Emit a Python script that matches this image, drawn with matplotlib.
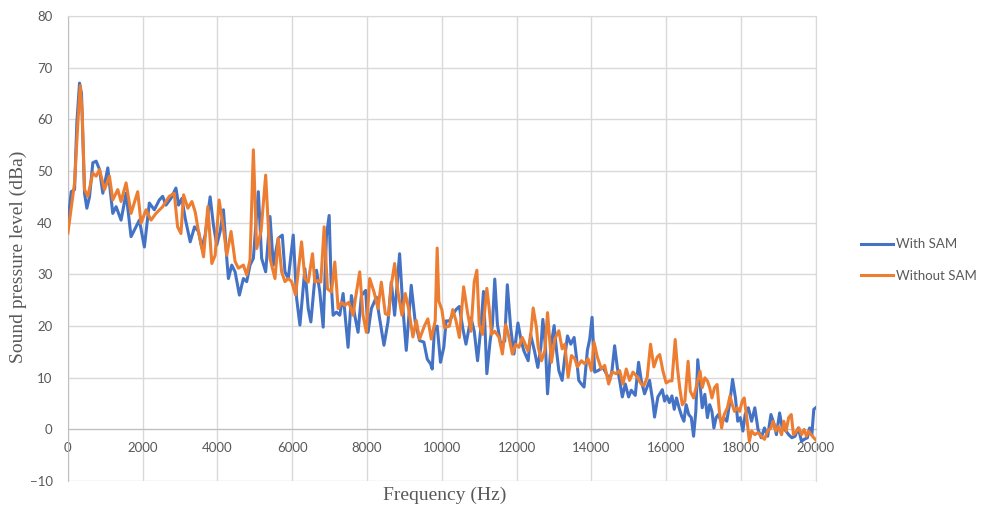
import matplotlib.pyplot as plt

# Spectrum (Hz, dBa)
freq_with = [0, 89, 178, 240, 311, 364, 445, 507, 578, 667, 756, 845, 934, 1067, 1200, 1289,
             1422, 1556, 1689, 1822, 1911, 2045, 2178, 2311, 2445, 2534, 2622, 2756, 2889,
             2960, 3049, 3138, 3271, 3387, 3493, 3582, 3671, 3804, 3893, 3982, 4071, 4160,
             4249, 4293, 4382, 4471, 4587, 4693, 4782, 4871, 4960, 5093, 5182, 5289, 5405,
             5493, 5627, 5734, 5805, 5894, 6027, 6116, 6205, 6338, 6427, 6498, 6604, 6649,
             6738, 6827, 6915, 6987, 7040, 7093, 7182, 7271, 7360, 7493, 7582, 7671, 7760,
             7849, 7964, 8027, 8116, 8249, 8338, 8453, 8560, 8649, 8738, 8871, 8960, 9049,
             9182, 9289, 9405, 9520, 9611, 9699, 9743, 9805, 9876, 9965, 10053, 10115, 10204,
             10292, 10381, 10469, 10558, 10646, 10779, 10867, 10956, 11044, 11115, 11204,
             11292, 11354, 11416, 11487, 11575, 11682, 11752, 11841, 11929, 12036, 12124,
             12195, 12310, 12372, 12478, 12567, 12649, 12702, 12773, 12827, 12915, 13004,
             13067, 13129, 13218, 13289, 13360, 13449, 13538, 13600, 13662, 13733, 13804,
             13893, 13956, 14018, 14089, 14178, 14311, 14400, 14489, 14551, 14622, 14693,
             14756, 14827, 14907, 14996, 15067, 15173, 15262, 15333, 15422, 15556, 15645,
             15689, 15778, 15897, 15957, 16017, 16086, 16155, 16216, 16276, 16345, 16414,
             16474, 16534, 16603, 16672, 16733, 16793, 16845, 16905, 16965, 17034, 17103,
             17164, 17224, 17276, 17336, 17396, 17465, 17534, 17621, 17707, 17776, 17853,
             17914, 17983, 18052, 18112, 18198, 18284, 18371, 18457, 18543, 18629, 18715,
             18802, 18888, 18948, 19034, 19103, 19207, 19276, 19362, 19448, 19534, 19620,
             19690, 19776, 19836, 19896, 19948, 20000]
spl_with = [40, 46, 46.4, 59.4, 67, 65, 45.7, 42.8, 45, 51.6, 51.9, 50.3, 45.7, 50.6, 41.8, 43.1,
            40.5, 45.7, 37.3, 39.2, 40.5, 35.3, 43.8, 42.5, 44.4, 45.1, 43.4, 44.7, 46.7,
            43.4, 44.7, 40.8, 36.3, 39.2, 38.3, 35.1, 37.6, 45, 39.5, 35.7, 38.3, 42.5,
            33.1, 29.2, 31.8, 30.5, 26, 29.2, 28.6, 31.8, 33.1, 46, 33.1, 30.5, 41.2,
            31.8, 37, 37.6, 30.5, 29.2, 37.6, 25.4, 20.2, 31.1, 23.4, 20.8, 29.2, 30.8,
            26.6, 19.8, 37.5, 41.4, 28.5, 22.1, 22.7, 22.1, 26.3, 15.9, 25.9, 22.1, 18.8,
            25.9, 26.9, 18.8, 23.4, 25.6, 21.4, 16.3, 20.8, 28.5, 22.1, 34, 23.4, 15.3,
            27.9, 20.8, 17.2, 16.9, 13.6, 12.7, 11.7, 19.7, 20, 13, 15.9, 21, 21,
            22.2, 23.2, 23.8, 19.7, 16.5, 21.6, 19, 13.3, 19.7, 26.7, 10.8,
            17.1, 20.3, 29.1, 20.3, 16.5, 17.1, 28, 19.7, 14.6, 20.6, 17.1,
            15.2, 13.3, 18.4, 15.2, 12, 15.9, 21.3, 15.9, 6.9, 15.9, 20.1,
            15.3, 11.4, 9.5, 14, 18.1, 16.5, 17.8, 14, 9.5, 8.8, 8.2,
            15.3, 17.5, 21.7, 11.1, 11.4, 12, 10.8, 9.5, 11.4, 16.2, 12,
            9.5, 6.3, 8.8, 6.3, 7.6, 6.6, 13, 9.5, 6.9, 9.5, 5.3,
            2.4, 6.3, 7.7, 5.5, 6.5, 5.2, 6.5, 3.9, 6.1, 4.2, 2.6,
            1.6, 4.8, 2.9, 2.3, -1.3, 3.5, 13.5, 8.7, 4.2, 6.8, 2.3,
            4.8, 3.5, 0.3, 2.3, 2.9, 1.6, 2.3, 1.6, 5.5, 9.7, 6.1,
            1.6, 2.3, -0.3, 2.9, 4.2, 1.6, 4.2, 0, -1.6, 0.3, -1.3,
            2.9, 1, -1, 3.2, 0.3, -0.3, -1, -1.6, -1.3, 0.3, -2.3,
            -1.9, -1.6, 0.3, -1, 3.9, 4.2]

freq_without = [0, 178, 267, 329, 382, 445, 534, 667, 756, 845, 978, 1111, 1200, 1334, 1422,
                1556, 1689, 1867, 1956, 2089, 2223, 2356, 2534, 2711, 2845, 2934, 3023, 3093,
                3209, 3316, 3404, 3493, 3627, 3742, 3849, 3938, 4044, 4160, 4249, 4364, 4471,
                4560, 4693, 4782, 4871, 4960, 5049, 5165, 5289, 5405, 5538, 5627, 5716, 5805,
                5894, 5983, 6089, 6249, 6338, 6427, 6542, 6604, 6693, 6764, 6853, 6942, 7049,
                7138, 7227, 7316, 7404, 7511, 7627, 7689, 7804, 7893, 7982, 8071, 8187, 8293,
                8382, 8489, 8578, 8649, 8738, 8827, 8933, 9022, 9111, 9227, 9316, 9405, 9538,
                9627, 9717, 9823, 9876, 9920, 10000, 10071, 10204, 10292, 10381, 10469, 10584,
                10690, 10779, 10867, 10938, 11000, 11089, 11204, 11266, 11328, 11416, 11531,
                11620, 11708, 11797, 11885, 11974, 12062, 12151, 12213, 12301, 12372, 12443,
                12531, 12578, 12667, 12756, 12827, 12933, 13022, 13129, 13218, 13289, 13378,
                13467, 13556, 13627, 13733, 13822, 13911, 14000, 14071, 14160, 14267, 14356,
                14462, 14551, 14667, 14756, 14845, 14933, 15022, 15111, 15200, 15333, 15404,
                15493, 15582, 15671, 15760, 15828, 15914, 16000, 16086, 16155, 16241, 16302,
                16362, 16431, 16500, 16586, 16646, 16733, 16819, 16905, 16965, 17034, 17103,
                17164, 17224, 17293, 17362, 17422, 17483, 17552, 17638, 17707, 17767, 17827,
                17896, 17965, 18034, 18086, 18155, 18224, 18284, 18371, 18457, 18543, 18629,
                18715, 18802, 18862, 18931, 19000, 19086, 19146, 19207, 19276, 19345, 19405,
                19491, 19551, 19620, 19690, 19750, 19810, 19879, 19948, 20000]
spl_without = [38, 47.7, 59.4, 66.5, 61.3, 46.4, 45.1, 49.6, 49, 50.3, 46.4, 49, 44.4, 46.4, 44.1,
               47.7, 41.8, 46, 39.9, 42.5, 40.5, 41.8, 43.1, 45.1, 45.7, 39.2, 37.9, 45.4,
               42.8, 44.1, 42.1, 38.3, 33.4, 43.1, 32.1, 33.7, 44.4, 38.9, 33.7, 38.3, 32.5,
               31.2, 31.8, 29.9, 32.8, 54.1, 35, 38.3, 49.2, 33.1, 29.2, 37, 30.5, 28.6,
               29.2, 28.6, 26, 36.3, 29.2, 28.5, 34, 28.5, 28.8, 28.5, 39.2, 27.2, 26.6,
               32.4, 23.4, 24.6, 24, 24.6, 22.1, 25.3, 30.5, 22.1, 18.8, 29.2, 26.6, 23.4,
               28.5, 22.4, 22.1, 27.9, 32.1, 26.6, 22.1, 26.3, 23.4, 17.9, 21.1, 17.5, 20.1,
               21.4, 17.5, 21, 35.1, 24.8, 23.2, 19.7, 20, 23.2, 21, 17.8, 27.6,
               22.5, 19, 28.6, 30.8, 20.3, 18.4, 27.3, 23.5, 18.4, 19, 17.8,
               14.6, 20.3, 17.8, 14.6, 16.5, 15.9, 17.8, 16.8, 15.2, 17.8, 23.5,
               19.7, 15.9, 13.3, 15.3, 22.6, 13, 17.5, 19.1, 15.6, 16.5, 10.1,
               14.3, 13.7, 12.1, 13.3, 12.7, 13.7, 11.4, 16.9, 14, 11.7, 12.4,
               8.8, 11.1, 10.8, 11.4, 8.8, 11.7, 9.5, 11.1, 10.4, 8.8, 8.5,
               10.1, 16.5, 12.1, 14, 14.5, 11.3, 9, 9.4, 9.4, 17.4, 11.9,
               8.1, 4.8, 5.5, 13.2, 7.4, 6.1, 8.7, 11.3, 8.1, 10, 9.4,
               8.1, 6.1, 8.1, 8.7, 3.5, 0.3, 2.9, 4.2, 6.5, 4.8, 3.5,
               4.2, 3.5, 5.5, 6.1, 2.3, -2.3, -0.3, -1, -0.6, -1.3, -1.9,
               -0.3, 0.3, 1.6, -0.3, 0.6, -1, 1.6, -0.3, 2.3, 2.9, -1,
               -0.3, 0.3, -1, 0, -1.3, -0.3, -1, -1.6, -2]

x_ticks = list(range(0, 20001, 2000))
y_ticks = list(range(-10, 81, 10))

blue = '#4472C4'
orange = '#ED7D31'
grid_col = '#D9D9D9'
text_col = '#595959'

fig = plt.figure(figsize=(9.84, 5.13), dpi=100)
ax = fig.add_axes([0.069, 0.062, 0.760, 0.907])

ax.plot(freq_with, spl_with, color=blue, linewidth=2.2, label='With SAM', zorder=3)
ax.plot(freq_without, spl_without, color=orange, linewidth=2.2, label='Without SAM', zorder=4)

ax.set_xlim(0, 20000)
ax.set_ylim(-10, 80)
ax.set_xticks(x_ticks)
ax.set_yticks(y_ticks)
ax.grid(True, color=grid_col, linewidth=1.0)
ax.set_axisbelow(True)

# Excel-style: horizontal axis sits at y = 0
ax.spines['bottom'].set_position(('data', 0))
ax.spines['bottom'].set_color('#BFBFBF')
ax.spines['left'].set_color('#BFBFBF')
ax.spines['top'].set_color(grid_col)
ax.spines['right'].set_color(grid_col)
ax.tick_params(length=0, labelsize=9.5, labelcolor=text_col)
ax.tick_params(axis='x', pad=9)
ax.tick_params(axis='y', pad=11)
for lab in ax.get_xticklabels() + ax.get_yticklabels():
    lab.set_family('Lato')

fig.text(0.452, 0.034, 'Frequency (Hz)', family='Liberation Serif', fontsize=14,
         color=text_col, ha='center', va='center')
fig.text(0.019, 0.50, 'Sound pressure level (dBa)', family='Liberation Serif', fontsize=14,
         color=text_col, ha='center', va='center', rotation=90)

leg = fig.legend(loc='center left', bbox_to_anchor=(0.866, 0.493), frameon=False,
                 prop={'family': 'Lato', 'size': 9.5}, handlelength=2.4,
                 handletextpad=0.2, labelspacing=1.5, borderpad=0.2)
for t in leg.get_texts():
    t.set_color(text_col)

fig.savefig('out.png', dpi=100)
